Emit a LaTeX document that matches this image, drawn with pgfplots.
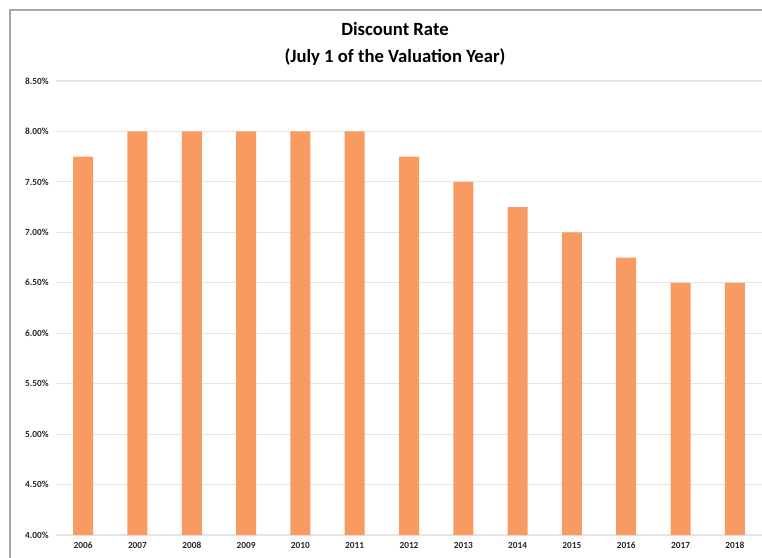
\documentclass[border=0pt]{standalone}
\usepackage{pgfplots}
\pgfplotsset{compat=1.18}
\usepackage{fontspec}
\setmainfont{Carlito}
\definecolor{barc}{HTML}{F79B62}
\definecolor{gridc}{HTML}{E4E4E4}
\begin{document}
\begin{tikzpicture}[x=0.75pt,y=0.75pt]
\path[use as bounding box] (0,0) rectangle (762,557);
\draw[color=black!35, line width=1pt] (10,-5) -- (10,547) -- (770,547);
\node[align=center, font=\bfseries\fontsize{14}{20}\selectfont] at (395,513) {Discount Rate\\(July 1 of the Valuation Year)};
\begin{axis}[
  at={(42pt,16.5pt)}, anchor=south west,
  scale only axis, width=529.5pt, height=340.5pt,
  ymin=4, ymax=8.5, xmin=-0.5, xmax=12.5,
  ytick={4,4.5,...,8.5},
  xtick={0,...,12},
  xticklabels={2006,2007,2008,2009,2010,2011,2012,2013,2014,2015,2016,2017,2018},
  yticklabel={\pgfmathprintnumber[fixed,fixed zerofill,precision=2]{\tick}\%},
  /pgf/number format/assume math mode=true,
  ticklabel style={font=\bfseries\fontsize{7}{8}\selectfont, text=black!85},
  ymajorgrids, grid style={gridc, line width=0.8pt},
  axis line style={draw=none},
  major tick length=0pt,
  xtick style={draw=none}, ytick style={draw=none},
  ybar, bar width=15pt,
  yticklabel style={xshift=-2pt},
  xticklabel style={yshift=-2pt},
  clip=false,
]
\addplot[fill=barc, draw=none] coordinates {
(0,7.75) (1,8) (2,8) (3,8) (4,8) (5,8) (6,7.75) (7,7.5) (8,7.25) (9,7) (10,6.75) (11,6.5) (12,6.5)};
\end{axis}
\end{tikzpicture}
\end{document}
